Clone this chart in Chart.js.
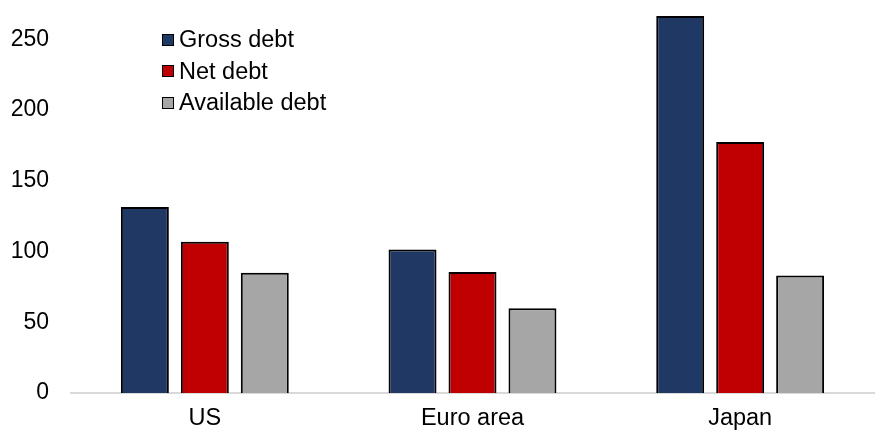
<!DOCTYPE html>
<html>
<head>
<meta charset="utf-8">
<script src="https://cdn.jsdelivr.net/npm/chart.js@4"></script>
<style>
    html, body { margin: 0; padding: 0; background: #fff; }
    #wrap { position: relative; width: 888px; height: 445px; }
    #legend {
        position: absolute; left: 162px; top: 24px;
        font-family: "Liberation Sans", Arial, sans-serif; font-size: 23.5px; color: #000;
        list-style: none; margin: 0; padding: 0;
    }
    #legend li { display: flex; align-items: center; height: 31.5px; }
    #legend span.box { width: 10px; height: 10px; border: 1.5px solid #000; margin-right: 5px; }
</style>
</head>
<body>
<div id="wrap">
    <canvas id="debtChart" width="888" height="445"></canvas>
    <ul id="legend"></ul>
</div>
<script>
// Chart data
const categories = ['US', 'Euro area', 'Japan'];
const grossDebt = [131.5, 101.5, 266.5];
const netDebt = [107, 85.5, 177.5];
const availableDebt = [85, 60, 83];
const yTicks = [0, 50, 100, 150, 200, 250];

const seriesNames = ['Gross debt', 'Net debt', 'Available debt'];
const seriesColors = ['#203864', '#C00000', '#A6A6A6'];

document.addEventListener('DOMContentLoaded', function() {
    const ctx = document.getElementById('debtChart').getContext('2d');
    const family = '"Liberation Sans", Arial, sans-serif';

    const chart = new Chart(ctx, {
        type: 'bar',
        data: {
            labels: categories,
            datasets: [grossDebt, netDebt, availableDebt].map((values, i) => ({
                label: seriesNames[i],
                data: values,
                backgroundColor: seriesColors[i],
                borderColor: '#000',
                borderWidth: 2,
                categoryPercentage: 0.672,
                barPercentage: 0.8
            }))
        },
        options: {
            responsive: false,
            animation: false,
            layout: { padding: { top: 4, right: 14, left: 0, bottom: 0 } },
            plugins: {
                legend: { display: false },
                tooltip: { enabled: false }
            },
            scales: {
                x: {
                    grid: { display: false, drawTicks: false },
                    border: { display: true, color: '#D9D9D9', width: 2 },
                    ticks: { color: '#000', font: { family: family, size: 23.5 }, padding: 11 },
                    afterFit: function(scale) {
                        scale.height = 52;
                        scale.paddingLeft = 0;
                        scale.paddingRight = 0;
                    }
                },
                y: {
                    min: 0,
                    max: 275,
                    grid: { display: false, drawTicks: false },
                    border: { display: false },
                    ticks: { color: '#000', font: { family: family, size: 23 }, padding: 22 },
                    afterBuildTicks: function(scale) {
                        scale.ticks = yTicks.map(v => ({ value: v }));
                    },
                    afterFit: function(scale) {
                        scale.width = 71;
                        scale.paddingTop = 0;
                        scale.paddingBottom = 0;
                    }
                }
            }
        }
    });

    // Build the legend from the datasets
    const legend = document.getElementById('legend');
    chart.data.datasets.forEach(ds => {
        const li = document.createElement('li');
        const box = document.createElement('span');
        box.className = 'box';
        box.style.background = ds.backgroundColor;
        li.appendChild(box);
        li.appendChild(document.createTextNode(ds.label));
        legend.appendChild(li);
    });
});
</script>
</body>
</html>
